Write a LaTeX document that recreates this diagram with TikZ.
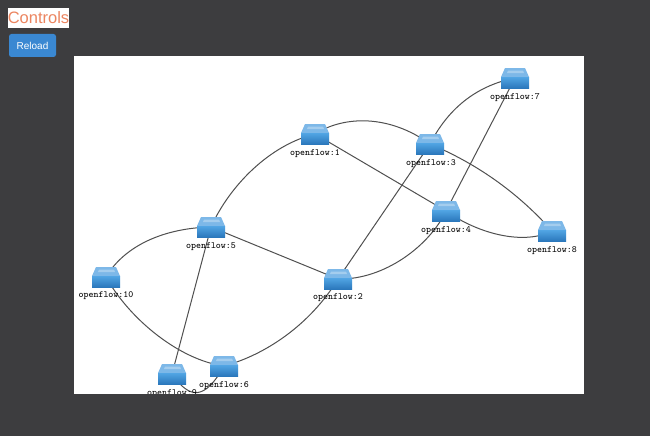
\documentclass[tikz,border=0pt]{standalone}
\usepackage{fontspec}
\setmainfont{Liberation Sans}
\setmonofont{Latin Modern Mono}
\definecolor{pagebg}{HTML}{3D3D3F}
\definecolor{wire}{HTML}{505050}
\definecolor{swtop}{HTML}{7DB8E8}
\definecolor{swhi}{HTML}{52A5E4}
\definecolor{swlo}{HTML}{2B78BC}
\definecolor{titlec}{HTML}{EC8560}
\definecolor{btn}{HTML}{3A88D2}
\tikzset{
  x=1pt,y=-1pt,
  swnode/.style={inner sep=0pt,minimum width=28pt,minimum height=20pt},
  link/.style={draw=wire,line width=1pt},
  swlabel/.style={font=\ttfamily\fontsize{9.5}{10}\selectfont,text=black,inner sep=0pt},
  switchicon/.pic={
    \fill[swtop] (-10,-10) -- (10,-10) -- (14,-1) -- (-14,-1) -- cycle;
    \fill[white,opacity=.3] (-7,-7.5) -- (8,-7.5) -- (9,-5) -- (-8,-5) -- cycle;
    \shade[top color=swhi,bottom color=swlo] (-14,-1) rectangle (14,10);
  }
}
\begin{document}
\begin{tikzpicture}
\useasboundingbox (0,0) rectangle (650,436);
\fill[pagebg] (0,0) rectangle (650,436);
\node[fill=white,inner sep=0pt,minimum width=510pt,minimum height=338pt,anchor=north west] (canvas) at (74,56) {};
% switch positions
\node[swnode] (n1) at (315,134) {};
\node[swnode] (n2) at (338,279) {};
\node[swnode] (n3) at (430,144) {};
\node[swnode] (n4) at (446,211) {};
\node[swnode] (n5) at (211,227) {};
\node[swnode] (n6) at (224,366) {};
\node[swnode] (n7) at (515,78) {};
\node[swnode] (n8) at (552,231) {};
\node[swnode] (n9) at (172,374) {};
\node[swnode] (n10) at (106,277) {};
% links
\path[link] (n1.center) .. controls (345,115) and (390,115) .. (n3.center);
\path[link] (n3.center) .. controls (450,105) and (480,85) .. (n7.center);
\path[link] (n1.center) .. controls (270,145) and (230,185) .. (n5.center);
\path[link] (n1.center) -- (n4.center);
\path[link] (n3.center) .. controls (480,165) and (520,195) .. (n8.center);
\path[link] (n3.center) -- (n2.center);
\path[link] (n7.center) -- (n4.center);
\path[link] (n4.center) .. controls (480,235) and (525,245) .. (n8.center);
\path[link] (n4.center) .. controls (430,245) and (385,280) .. (n2.center);
\path[link] (n5.center) -- (n2.center);
\path[link] (n5.center) .. controls (165,228) and (125,245) .. (n10.center);
\path[link] (n5.center) -- (n9.center);
\path[link] (n2.center) .. controls (310,325) and (265,355) .. (n6.center);
\path[link] (n10.center) .. controls (130,320) and (180,360) .. (n6.center);
\path[link] (n9.center) .. controls (190,400) and (205,400) .. (n6.center);
% icons
\foreach \n in {n1,n2,n3,n4,n5,n6,n7,n8,n9,n10} { \pic at (\n) {switchicon}; }
% labels
\node[swlabel] (l1) at (315,154) {openflow:1};
\node[swlabel] (l2) at (338,298) {openflow:2};
\node[swlabel] (l3) at (431,164) {openflow:3};
\node[swlabel] (l4) at (446,231) {openflow:4};
\node[swlabel] (l5) at (211,247) {openflow:5};
\node[swlabel] (l6) at (224,386) {openflow:6};
\node[swlabel] (l7) at (515,98) {openflow:7};
\node[swlabel] (l8) at (552,251) {openflow:8};
\node[swlabel] (l9) at (172,394) {openflow:9};
\node[swlabel] (l10) at (106,296) {openflow:10};
% page band below the canvas
\fill[pagebg] (0,394) rectangle (650,436);
% controls
\node[fill=white,inner sep=0pt,minimum width=61pt,minimum height=20pt] (titlebox) at (38.5,18) {};
\node[text=titlec,font=\fontsize{16.5}{20}\selectfont,inner sep=0pt] (title) at (38.5,18) {Controls};
\node[fill=btn,rounded corners=2.5pt,text=white,font=\fontsize{10}{12}\selectfont,inner sep=0pt,minimum width=47pt,minimum height=23pt] (reload) at (32.5,45.5) {Reload};
\end{tikzpicture}
\end{document}
